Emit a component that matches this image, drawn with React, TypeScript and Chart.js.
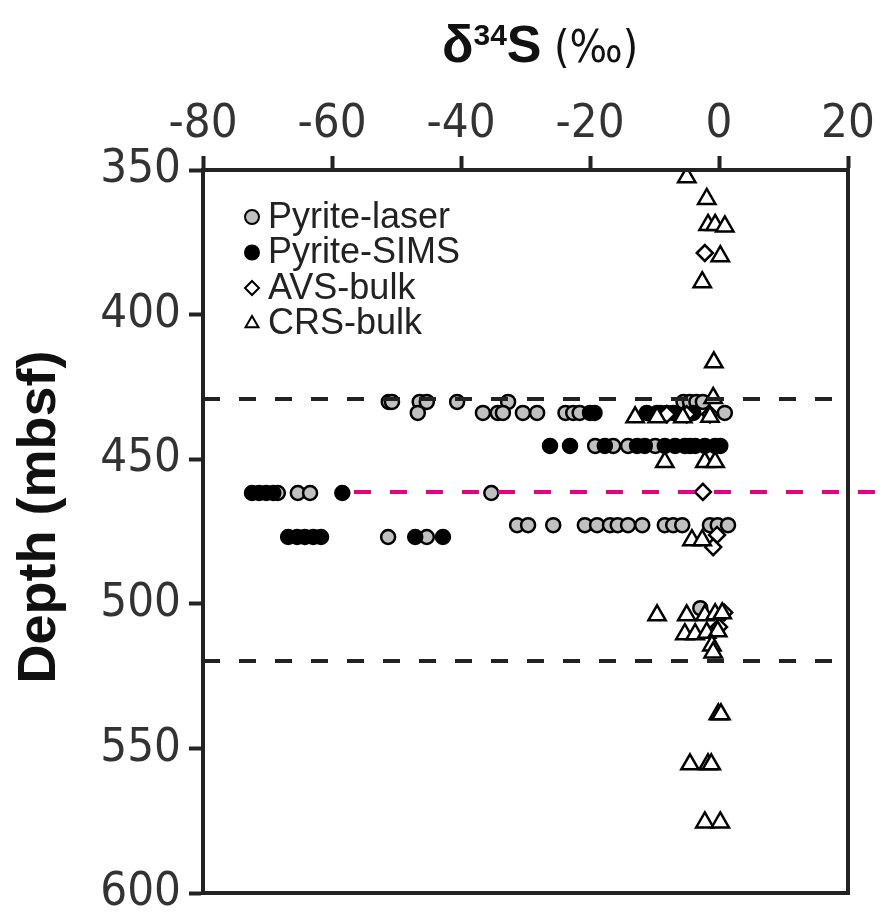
import React, { useEffect, useRef } from "react";
import { Chart, registerables } from "chart.js";

Chart.register(...registerables);

const FONT = '"Liberation Sans", Arial, Helvetica, sans-serif';
const NARROW = '"DejaVu Sans Condensed", "Liberation Sans", sans-serif';

// Axis ranges / ticks
const xRange = [-80, 20];
const xStep = 20;
const yRange = [350, 600];
const yStep = 50;

// [δ34S (‰), depth (mbsf)]
const pyriteLaser: [number, number][] = [
  [-51.2, 430.2], [-50.7, 430.2], [-46.4, 430.2], [-45.3, 430.2], [-40.6, 430.2], [-32.7, 430.2],
  [-5.5, 430.2], [-4.5, 430.2], [-3.5, 430.2], [-2.5, 430.2],
  [-46.7, 434.0], [-36.6, 434.0], [-34.3, 434.0], [-33.5, 434.0], [-30.4, 434.0], [-28.2, 434.0],
  [-23.8, 434.0], [-22.6, 434.0], [-21.6, 434.0], [-9.1, 434.0], [-8.1, 434.0], [0.9, 434.0],
  [-19.2, 445.4], [-16.4, 445.4], [-14.1, 445.4], [-9.9, 445.4], [-4.5, 445.4],
  [-68.4, 461.7], [-65.3, 461.7], [-63.4, 461.7], [-35.3, 461.7],
  [-31.3, 472.8], [-29.6, 472.8], [-25.7, 472.8], [-20.8, 472.8], [-18.9, 472.8], [-16.9, 472.8],
  [-15.7, 472.8], [-14.1, 472.8], [-11.9, 472.8], [-8.4, 472.8], [-7.1, 472.8], [-5.7, 472.8],
  [-1.4, 472.8], [-0.2, 472.8], [1.4, 472.8],
  [-51.3, 476.9], [-45.3, 476.9],
  [-2.9, 501.5],
];

const pyriteSims: [number, number][] = [
  [-20.0, 434.0], [-19.3, 434.0], [-11.2, 434.0], [-9.6, 434.0], [-7.1, 434.0], [-4.0, 434.0],
  [-26.2, 445.4], [-23.1, 445.4], [-17.7, 445.4], [-12.7, 445.4], [-11.5, 445.4], [-8.4, 445.4],
  [-6.8, 445.4], [-5.3, 445.4], [-3.7, 445.4], [-2.2, 445.4], [-0.6, 445.4], [0.2, 445.4],
  [-72.4, 461.7], [-71.3, 461.7], [-70.2, 461.7], [-69.1, 461.7], [-58.4, 461.7],
  [-66.8, 476.9], [-65.4, 476.9], [-64.2, 476.9], [-62.9, 476.9], [-61.7, 476.9],
  [-47.1, 476.9], [-42.8, 476.9],
];

const avsBulk: [number, number][] = [
  [-2.2, 378.7], [-8.1, 434.5], [-5.0, 434.5], [-1.4, 434.5], [-2.5, 461.3],
  [-0.3, 476.2], [-0.9, 480.4], [0.8, 503.0], [0.0, 508.0],
];

const crsBulk: [number, number][] = [
  [-5.0, 352.5], [-1.9, 360.0], [-1.7, 369.0], [-0.6, 369.0], [0.9, 369.5], [0.2, 379.8],
  [-2.6, 388.8], [-0.8, 416.5], [-0.9, 428.8],
  [-13.0, 435.5], [-9.6, 435.5], [-5.6, 435.5], [-1.4, 435.3],
  [-8.4, 451.0], [-2.2, 451.0], [-0.6, 451.0],
  [-4.2, 478.0], [-2.6, 478.0],
  [-9.6, 504.0], [-5.0, 504.0], [-2.2, 504.0], [-0.6, 503.6], [0.5, 503.3],
  [-5.3, 510.5], [-3.7, 510.5], [-1.9, 510.0], [-0.2, 509.5],
  [-1.1, 514.4], [-0.9, 516.8],
  [-0.1, 538.2], [0.3, 538.2],
  [-4.5, 555.5], [-1.7, 555.5], [-1.2, 555.5],
  [-2.2, 575.6], [0.2, 575.6],
];

// Horizontal reference lines
const blackLineDepths = [429.2, 519.8];
const magentaDepth = 461.3;
const magentaXRange = [-56.6, 25];

const seriesLabels = ["Pyrite-laser", "Pyrite-SIMS", "AVS-bulk", "CRS-bulk"];

const toXY = (arr: [number, number][]) => arr.map(([x, y]) => ({ x, y }));

const legendStyles = [
  { shape: "circle", r: 7, fill: "#c0c0c0" },
  { shape: "circle", r: 7, fill: "#000" },
  { shape: "diamond", r: 7, fill: "#fff" },
  { shape: "triangle", r: 7.5, fill: "#fff" },
];

function drawMarker(ctx: CanvasRenderingContext2D, shape: string, x: number, y: number, r: number, fill: string) {
  ctx.beginPath();
  if (shape === "circle") {
    ctx.arc(x, y, r, 0, Math.PI * 2);
  } else if (shape === "diamond") {
    ctx.moveTo(x, y - r);
    ctx.lineTo(x + r, y);
    ctx.lineTo(x, y + r);
    ctx.lineTo(x - r, y);
    ctx.closePath();
  } else {
    ctx.moveTo(x, y - r);
    ctx.lineTo(x + r * 0.866, y + r * 0.5);
    ctx.lineTo(x - r * 0.866, y + r * 0.5);
    ctx.closePath();
  }
  ctx.fillStyle = fill;
  ctx.fill();
  ctx.lineWidth = 2;
  ctx.strokeStyle = "#000";
  ctx.stroke();
}

const decorPlugin = {
  id: "decor",
  afterDraw(chart: any) {
    const { ctx, chartArea } = chart;
    ctx.save();
    // frame
    ctx.strokeStyle = "#222";
    ctx.lineWidth = 4;
    ctx.strokeRect(chartArea.left, chartArea.top, chartArea.right - chartArea.left, chartArea.bottom - chartArea.top);

    // legend
    ctx.font = `36px ${FONT}`;
    ctx.textBaseline = "middle";
    ctx.textAlign = "left";
    seriesLabels.forEach((lab, i) => {
      const y = chartArea.top + 47 + i * 35.5;
      const st = legendStyles[i];
      drawMarker(ctx, st.shape, chartArea.left + 49, y, st.r, st.fill);
      ctx.fillStyle = "#222";
      ctx.fillText(lab, chartArea.left + 65, y + 1);
    });

    // x title: δ34S (‰)
    const parts = [
      { t: "δ", f: `bold 52px ${FONT}`, dy: 0 },
      { t: "34", f: `bold 30px ${FONT}`, dy: -17 },
      { t: "S", f: `bold 52px ${FONT}`, dy: 0 },
      { t: " (‰)", f: `44px ${NARROW}`, dy: 0 },
    ];
    let total = 0;
    parts.forEach((p) => {
      ctx.font = p.f;
      total += ctx.measureText(p.t).width;
    });
    let cx = 540 - total / 2;
    ctx.fillStyle = "#111";
    ctx.textBaseline = "alphabetic";
    ctx.textAlign = "left";
    parts.forEach((p) => {
      ctx.font = p.f;
      ctx.fillText(p.t, cx, 62 + p.dy);
      cx += ctx.measureText(p.t).width;
    });

    // y title
    ctx.translate(40, 517);
    ctx.rotate(-Math.PI / 2);
    ctx.font = `bold 54px ${FONT}`;
    ctx.textAlign = "center";
    ctx.textBaseline = "middle";
    ctx.fillText("Depth (mbsf)", 0, 0);
    ctx.restore();
  },
};

export default function App() {
  const ref = useRef<HTMLCanvasElement | null>(null);

  useEffect(() => {
    document.body.style.margin = "0";
    const canvas = ref.current;
    if (!canvas) return;

    const lineDatasets: any[] = blackLineDepths.map((d) => ({
      type: "line",
      label: "_line",
      data: [{ x: xRange[0], y: d }, { x: xRange[1], y: d }],
      borderColor: "#222",
      borderWidth: 4,
      borderDash: [17, 19],
      pointRadius: 0,
      showLine: true,
      order: 0,
    }));
    lineDatasets.push({
      type: "line",
      label: "_magenta",
      data: [{ x: magentaXRange[0], y: magentaDepth }, { x: magentaXRange[1], y: magentaDepth }],
      borderColor: "#e4007f",
      borderWidth: 4,
      borderDash: [17, 19],
      pointRadius: 0,
      showLine: true,
      clip: false,
      order: 0,
    });

    const tickFont = { size: 47, family: NARROW, lineHeight: 1 };

    const chart = new Chart(canvas, {
      type: "scatter",
      data: {
        datasets: [
          {
            label: seriesLabels[0],
            data: toXY(pyriteLaser),
            pointStyle: "circle",
            pointRadius: 7,
            backgroundColor: "#c0c0c0",
            borderColor: "#000",
            borderWidth: 2.5,
            order: 4,
          },
          {
            label: seriesLabels[1],
            data: toXY(pyriteSims),
            pointStyle: "circle",
            pointRadius: 7,
            backgroundColor: "#000",
            borderColor: "#000",
            borderWidth: 2.5,
            order: 3,
          },
          {
            label: seriesLabels[2],
            data: toXY(avsBulk),
            pointStyle: "rectRot",
            pointRadius: 8,
            backgroundColor: "#fff",
            borderColor: "#000",
            borderWidth: 2.5,
            order: 2,
          },
          {
            label: seriesLabels[3],
            data: toXY(crsBulk),
            pointStyle: "triangle",
            pointRadius: 10,
            backgroundColor: "#fff",
            borderColor: "#000",
            borderWidth: 2.5,
            order: 1,
          },
          ...lineDatasets,
        ],
      } as any,
      options: {
        animation: false,
        responsive: false,
        maintainAspectRatio: false,
        events: [],
        layout: { padding: { left: 0, top: 0, right: 32, bottom: 24 } },
        plugins: {
          legend: { display: false },
          tooltip: { enabled: false },
          title: { display: false },
        },
        scales: {
          x: {
            type: "linear",
            position: "top",
            min: xRange[0],
            max: xRange[1],
            ticks: {
              stepSize: xStep,
              font: tickFont,
              color: "#333",
              padding: 8,
              maxRotation: 0,
            },
            grid: {
              drawOnChartArea: false,
              drawTicks: true,
              tickLength: 14,
              tickWidth: 4,
              tickColor: "#222",
            },
            border: { display: true, width: 4, color: "#222" },
            afterFit: (s: any) => {
              s.height = 170;
              s.paddingLeft = 0;
              s.paddingRight = 0;
            },
          },
          y: {
            type: "linear",
            reverse: true,
            min: yRange[0],
            max: yRange[1],
            ticks: {
              stepSize: yStep,
              font: tickFont,
              color: "#333",
              padding: 8,
            },
            grid: {
              drawOnChartArea: false,
              drawTicks: true,
              tickLength: 14,
              tickWidth: 4,
              tickColor: "#222",
            },
            border: { display: true, width: 4, color: "#222" },
            afterFit: (s: any) => {
              s.width = 203;
              s.paddingTop = 0;
              s.paddingBottom = 0;
            },
          },
        },
      } as any,
      plugins: [decorPlugin],
    });

    return () => chart.destroy();
  }, []);

  return (
    <div style={{ width: 880, height: 917, position: "relative", background: "#fff" }}>
      <canvas ref={ref} width={880} height={917} style={{ width: 880, height: 917, display: "block" }} />
    </div>
  );
}
